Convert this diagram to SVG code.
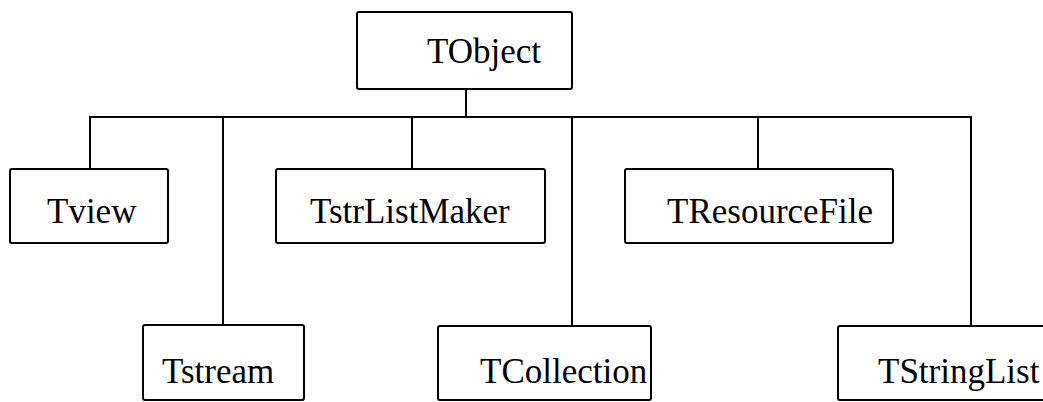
<svg xmlns="http://www.w3.org/2000/svg" width="1043" height="402" viewBox="0 0 1043 402">
  <style>
    .box { fill: #fff; stroke: #000; stroke-width: 2; }
    .lbl { font-family: "Liberation Serif", "Times New Roman", serif; font-size: 35px; fill: #000; }
    .wire { fill: none; stroke: #000; stroke-width: 2; }
  </style>
  <rect width="1043" height="402" fill="#fff"/>

  <!-- inheritance connectors -->
  <g id="connectors">
    <path class="wire" d="M466,89 V117"/>
    <path class="wire" d="M90,169 V117 H971 V326"/>
    <path class="wire" d="M223,117 V325"/>
    <path class="wire" d="M412,117 V169"/>
    <path class="wire" d="M572,117 V326"/>
    <path class="wire" d="M758,117 V169"/>
  </g>

  <g id="TObject">
    <rect class="box" x="357" y="12" width="215" height="77" rx="2"/>
    <text class="lbl" x="427" y="63">TObject</text>
  </g>

  <g id="Tview">
    <rect class="box" x="10" y="169" width="158" height="74" rx="2"/>
    <text class="lbl" x="47" y="223">Tview</text>
  </g>

  <g id="TstrListMaker">
    <rect class="box" x="276" y="169" width="269" height="74" rx="2"/>
    <text class="lbl" x="310" y="223">TstrListMaker</text>
  </g>

  <g id="TResourceFile">
    <rect class="box" x="625" y="169" width="268" height="74" rx="2"/>
    <text class="lbl" x="667" y="223">TResourceFile</text>
  </g>

  <g id="Tstream">
    <rect class="box" x="143" y="325" width="161" height="75" rx="2"/>
    <text class="lbl" x="162" y="383">Tstream</text>
  </g>

  <g id="TCollection">
    <rect class="box" x="438" y="326" width="213" height="74" rx="2"/>
    <text class="lbl" x="480" y="383">TCollection</text>
  </g>

  <g id="TStringList">
    <rect class="box" x="838" y="326" width="210" height="74" rx="2"/>
    <text class="lbl" x="878" y="383">TStringList</text>
  </g>
</svg>
